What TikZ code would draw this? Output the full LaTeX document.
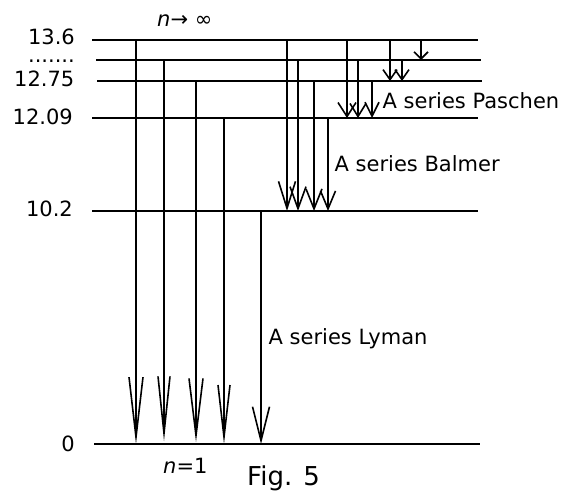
\documentclass[tikz,border=0pt]{standalone}
\usepackage{fontspec}
\setmainfont{DejaVu Sans}
\usetikzlibrary{arrows.meta}
\begin{document}
\begin{tikzpicture}[x=1pt,y=-1pt,
  level/.style={line width=1.9pt},
  trans/.style 2 args={line width=1.6pt,-{Straight Barb[length=#1pt,width=#2pt]}},
  lbl/.style={inner sep=0pt,font=\fontsize{21}{25}\selectfont},
  lvl/.style={lbl,anchor=base east},
  ser/.style={lbl,anchor=base west}]
\useasboundingbox (0,0) rectangle (564,491);
% level line ends
\coordinate (a1) at (92,40);  \coordinate (b1) at (478,40);
\coordinate (a2) at (96,60);  \coordinate (b2) at (481,60);
\coordinate (a3) at (97,81);  \coordinate (b3) at (482,81);
\coordinate (a4) at (92,118); \coordinate (b4) at (478,118);
\coordinate (a5) at (92,211); \coordinate (b5) at (478,211);
\coordinate (a6) at (94,444); \coordinate (b6) at (480,444);
\foreach \i in {1,...,6} \draw[level] (a\i) -- (b\i);
% energy labels
\node[lvl] (t1) at (75,44.3) {13.6};
\node[lvl] (t2) at (75,62.5) {.......};
\node[lvl] (t3) at (74.5,86) {12.75};
\node[lvl] (t4) at (73,124) {12.09};
\node[lvl] (t5) at (73,216.7) {10.2};
\node[lvl] (t6) at (75,451.7) {0};
\node[lbl,anchor=base west] (ninf) at (157,26) {\textit{n}→ ∞};
\node[lbl,anchor=base west] (n1) at (163,473.3) {\textit{n}=1};
\node[inner sep=0pt,anchor=base west,font=\fontsize{26}{30}\selectfont] (fig) at (247,485) {Fig. 5};
\node[ser] (pas) at (382.5,108.3) {A series Paschen};
\node[ser] (bal) at (334.5,171.7) {A series Balmer};
\node[ser] (lym) at (268.5,344.3) {A series Lyman};
% Lyman
\coordinate (ly1s) at (136,40);   \coordinate (ly1e) at (136,444);
\coordinate (ly2s) at (164,60);   \coordinate (ly2e) at (164,441);
\coordinate (ly3s) at (196,81);   \coordinate (ly3e) at (196,442);
\coordinate (ly4s) at (224,118);  \coordinate (ly4e) at (224,444);
\coordinate (ly5s) at (261,211);  \coordinate (ly5e) at (261,444);
\draw[trans={60}{14}] (ly1s) -- (ly1e);
\draw[trans={57}{12}] (ly2s) -- (ly2e);
\draw[trans={57}{14}] (ly3s) -- (ly3e);
\draw[trans={52}{12}] (ly4s) -- (ly4e);
\draw[trans={34}{17}] (ly5s) -- (ly5e);
% Balmer
\coordinate (ba1s) at (287,40);   \coordinate (ba1e) at (287,211);
\coordinate (ba2s) at (298,60);   \coordinate (ba2e) at (298,211);
\coordinate (ba3s) at (314,81);   \coordinate (ba3e) at (314,211);
\coordinate (ba4s) at (328,118);  \coordinate (ba4e) at (328,211);
\draw[trans={27}{17}] (ba1s) -- (ba1e);
\draw[trans={22}{16}] (ba2s) -- (ba2e);
\draw[trans={20}{16}] (ba3s) -- (ba3e);
\draw[trans={18}{15}] (ba4s) -- (ba4e);
% Paschen
\coordinate (pa1s) at (347,40);   \coordinate (pa1e) at (347,118);
\coordinate (pa2s) at (358,60);   \coordinate (pa2e) at (358,118);
\coordinate (pa3s) at (372,81);   \coordinate (pa3e) at (372,118);
\draw[trans={14}{18}] (pa1s) -- (pa1e);
\draw[trans={13}{16}] (pa2s) -- (pa2e);
\draw[trans={14}{14}] (pa3s) -- (pa3e);
% higher series
\coordinate (h1s) at (390,40);  \coordinate (h1e) at (390,81);
\coordinate (h2s) at (402,60);  \coordinate (h2e) at (402,81);
\coordinate (h3s) at (421,40);  \coordinate (h3e) at (421,60);
\draw[trans={10}{14}] (h1s) -- (h1e);
\draw[trans={10}{14}] (h2s) -- (h2e);
\draw[trans={7}{14}] (h3s) -- (h3e);
\end{tikzpicture}
\end{document}
